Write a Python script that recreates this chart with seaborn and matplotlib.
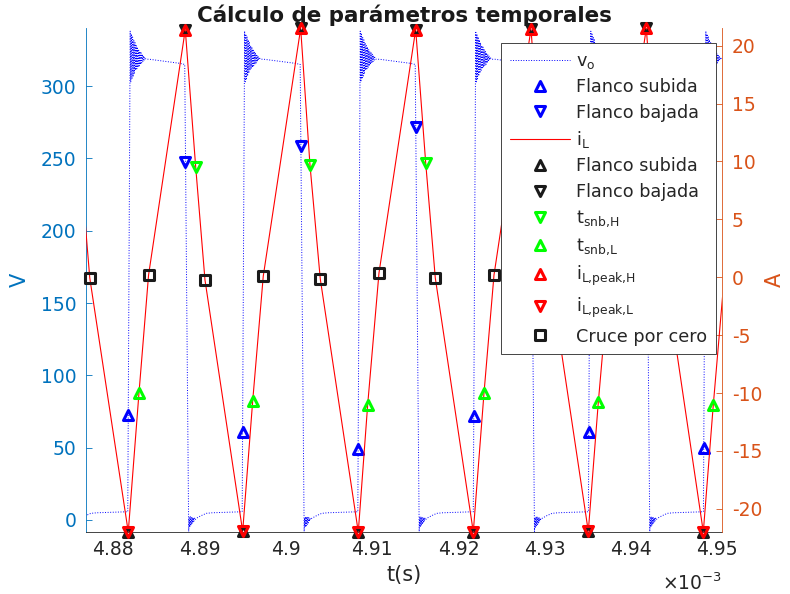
import numpy as np
import pandas as pd
import matplotlib
matplotlib.use("Agg")
import matplotlib.pyplot as plt
from matplotlib.markers import MarkerStyle
from matplotlib.ticker import FixedLocator, FixedFormatter
import seaborn as sns

sns.set_theme(style="white")
plt.rcParams["font.family"] = ["DejaVu Sans"]
plt.rcParams["mathtext.fontset"] = "dejavusans"
plt.rcParams["axes.unicode_minus"] = False

# ---------------- v_o switching instants (ms) ----------------
vo_rise_t = [4.88168, 4.89494, 4.90834, 4.92172, 4.93506, 4.94839]
vo_fall_t = [4.87490, 4.88828, 4.90166, 4.91499, 4.92835, 4.94171]

# rising edge with ringing: offset from edge start (us), voltage (V)
rise_dt = [0.00, 0.28, 0.35, 0.42, 0.49, 0.56, 0.63, 0.70, 0.77, 0.84,
           0.91, 0.98, 1.05, 1.12, 1.19, 1.26, 1.33, 1.40, 1.47, 1.54,
           1.61, 1.68, 1.75, 1.82, 1.89, 1.96, 2.10, 2.50]
rise_v = [5.7, 338.0, 303.0, 336.0, 305.0, 334.0, 307.0, 332.0, 309.0, 330.0,
          311.0, 328.0, 312.0, 327.0, 313.0, 325.5, 314.0, 324.0, 315.0, 323.0,
          316.0, 322.0, 317.0, 321.0, 318.0, 320.0, 318.6, 318.6]
# falling edge with undershoot ringing
fall_dt = [0.00, 0.46, 0.52, 0.58, 0.64, 0.70, 0.76, 0.82, 0.88, 0.94,
           1.00, 1.06, 1.12, 1.20, 1.35, 1.90, 2.50, 3.20]
fall_v = [315.0, -8.0, 1.5, -5.0, 2.3, -4.0, 2.0, -3.0, 1.8, -2.0,
          1.5, -1.0, 1.3, 0.2, 1.2, 3.0, 4.6, 5.0]
# plateau sag just before each edge
high_dt, high_v = [-0.6], [315.8]
low_dt, low_v = [-0.3], [5.6]

# markers on the v_o edges (ms, V)
vo_up_t = [4.881738, 4.894996, 4.908393, 4.921836, 4.935128, 4.948455]
vo_up_v = [72.6, 61.0, 49.1, 72.1, 60.6, 49.6]
vo_dn_t = [4.888344, 4.901717, 4.915045, 4.928406, 4.941768]
vo_dn_v = [247.8, 258.6, 271.6, 247.8, 258.6]

# ---------------- i_L characteristic points (ms, A) ----------------
peak_t = [4.888344, 4.901717, 4.915045, 4.928406, 4.941768]
peak_v = [21.40, 21.50, 21.40, 21.45, 21.50]
valley_t = [4.881738, 4.894996, 4.908393, 4.921720, 4.935047, 4.948374]
valley_v = [-22.0, -21.95, -22.0, -22.0, -21.95, -22.0]
snbH_t = [4.889549, 4.902795, 4.916203, 4.929565, 4.942950]
snbH_v = [9.55, 9.70, 9.90, 9.55, 9.70]
snbL_t = [4.882978, 4.896155, 4.909482, 4.922960, 4.936206, 4.949533]
snbL_v = [-10.0, -10.7, -11.0, -10.0, -10.8, -11.0]
zc_t = [4.877277, 4.884091, 4.890627, 4.897383, 4.903989, 4.910791,
        4.917316, 4.924119, 4.930689, 4.937480, 4.944051]
zc_v = [-0.06, 0.20, -0.23, 0.11, -0.15, 0.37, -0.06, 0.20, -0.23, 0.11, -0.15]
# i_L samples just outside the displayed window
il_out_t = [4.874970, 4.876176, 4.950808]
il_out_v = [21.40, 9.90, 0.10]

x_ticks = [4.88, 4.89, 4.90, 4.91, 4.92, 4.93, 4.94, 4.95]
x_ticklabels = ["4.88", "4.89", "4.9", "4.91", "4.92", "4.93", "4.94", "4.95"]
v_ticks = [0, 50, 100, 150, 200, 250, 300]
a_ticks = [-20, -15, -10, -5, 0, 5, 10, 15, 20]

# ---------------- build the v_o and i_L traces ----------------
vo_pts = []
for tr in vo_rise_t:
    for d, v in zip(low_dt + rise_dt, low_v + rise_v):
        vo_pts.append((tr + d * 1e-3, v))
for tf in vo_fall_t:
    for d, v in zip(high_dt + fall_dt, high_v + fall_v):
        vo_pts.append((tf + d * 1e-3, v))
vo_pts.sort()
vo_df = pd.DataFrame(vo_pts, columns=["t", "v"])
vo_df["t"] *= 1e-3

il_df = pd.DataFrame({
    "t": peak_t + valley_t + snbH_t + snbL_t + zc_t + il_out_t,
    "i": peak_v + valley_v + snbH_v + snbL_v + zc_v + il_out_v,
}).sort_values("t")
il_df["t"] *= 1e-3

s = lambda arr: np.asarray(arr) * 1e-3

BLUE_AX = "#0072BD"
ORANGE_AX = "#D95319"
DARK = "#262626"

fig = plt.figure(figsize=(7.9, 5.94), dpi=100)
ax = fig.add_axes([86 / 790, 62 / 594, 636 / 790, 504 / 594])
ax2 = ax.twinx()

def mk(m):
    return MarkerStyle(m, joinstyle="round")

mkw = dict(linestyle="none", markersize=7.5, markeredgewidth=2.2,
           markerfacecolor="none", clip_on=False)

# left axis: v_o
sns.lineplot(data=vo_df, x="t", y="v", ax=ax, sort=False, estimator=None,
             color="#0000FF", linestyle=":", linewidth=0.7)
h_vo = ax.lines[-1]
h_vup, = ax.plot(s(vo_up_t), vo_up_v, marker=mk("^"), markeredgecolor="#0000FF", **mkw)
h_vdn, = ax.plot(s(vo_dn_t), vo_dn_v, marker=mk("v"), markeredgecolor="#0000FF", **mkw)

# right axis: i_L
sns.lineplot(data=il_df, x="t", y="i", ax=ax2, sort=False, estimator=None,
             color="#FF0000", linewidth=0.8)
h_il = ax2.lines[-1]
h_kup, = ax2.plot(s(valley_t), valley_v, marker=mk("^"), markeredgecolor="k", **mkw)
h_kdn, = ax2.plot(s(peak_t), peak_v, marker=mk("v"), markeredgecolor="k", **mkw)
h_gH, = ax2.plot(s(snbH_t), snbH_v, marker=mk("v"), markeredgecolor="#00FF00", **mkw)
h_gL, = ax2.plot(s(snbL_t), snbL_v, marker=mk("^"), markeredgecolor="#00FF00", **mkw)
h_rH, = ax2.plot(s(peak_t), peak_v, marker=mk("^"), markeredgecolor="#FF0000", **mkw)
h_rL, = ax2.plot(s(valley_t), valley_v, marker=mk("v"), markeredgecolor="#FF0000", **mkw)
sq = dict(mkw)
sq["markersize"] = 6.5
h_zc, = ax2.plot(s(zc_t), zc_v, marker=mk("s"), markeredgecolor="k", **sq)

# limits and ticks
ax.set_xlim(4.87684e-3, 4.95054e-3)
ax.set_ylim(-8.3, 340.2)
ax2.set_ylim(-22.0, 21.53)
ax.xaxis.set_major_locator(FixedLocator(list(s(x_ticks))))
ax.xaxis.set_major_formatter(FixedFormatter(x_ticklabels))
ax.yaxis.set_major_locator(FixedLocator(v_ticks))
ax.yaxis.set_major_formatter(FixedFormatter([str(v) for v in v_ticks]))
ax2.yaxis.set_major_locator(FixedLocator(a_ticks))
ax2.yaxis.set_major_formatter(FixedFormatter([str(v) for v in a_ticks]))

ax.tick_params(axis="x", colors=DARK, direction="in", length=4.5, width=0.6,
               labelsize=13.5, pad=6)
ax.tick_params(axis="y", colors=BLUE_AX, direction="in", length=4.5, width=0.6,
               labelsize=13.5, pad=7)
ax2.tick_params(axis="y", colors=ORANGE_AX, direction="in", length=4.5, width=0.6,
                labelsize=13.5, pad=7)

for a in (ax, ax2):
    a.spines["top"].set_visible(False)
ax.spines["right"].set_visible(False)
ax2.spines["left"].set_visible(False)
ax2.spines["bottom"].set_visible(False)
ax.spines["left"].set_color(BLUE_AX)
ax.spines["bottom"].set_color(DARK)
ax2.spines["right"].set_color(ORANGE_AX)
for sp in ("left", "bottom"):
    ax.spines[sp].set_linewidth(0.6)
ax2.spines["right"].set_linewidth(0.6)

ax.set_xlabel("t(s)", fontsize=15, color=DARK, labelpad=4)
ax.set_ylabel("V", fontsize=15, color=BLUE_AX, labelpad=8)
ax2.set_ylabel("A", fontsize=15, color=ORANGE_AX, labelpad=2)
ax.set_title("Cálculo de parámetros temporales", fontsize=15.4,
             fontweight="bold", color="k", pad=4)
ax.text(1.0, -0.115, r"$\times\mathregular{10^{-3}}$", transform=ax.transAxes,
        ha="right", va="baseline", fontsize=13.5, color=DARK)

handles = [h_vo, h_vup, h_vdn, h_il, h_kup, h_kdn, h_gH, h_gL, h_rH, h_rL, h_zc]
labels = [r"$\mathregular{v_o}$", "Flanco subida", "Flanco bajada",
          r"$\mathregular{i_L}$", "Flanco subida", "Flanco bajada",
          r"$\mathregular{t_{snb{,}H}}$", r"$\mathregular{t_{snb{,}L}}$",
          r"$\mathregular{i_{L{,}peak{,}H}}$", r"$\mathregular{i_{L{,}peak{,}L}}$",
          "Cruce por cero"]
leg = ax2.legend(handles, labels, loc="upper right",
                 bbox_to_anchor=((716 - 86) / 636, (532 - 43) / 504),
                 borderaxespad=0, fontsize=12.7, handlelength=3.4,
                 handletextpad=0.35, labelspacing=0.42, borderpad=0.5,
                 fancybox=False, framealpha=1, edgecolor=DARK, numpoints=1)
leg.get_frame().set_linewidth(0.6)

fig.savefig("out.png", dpi=100)
